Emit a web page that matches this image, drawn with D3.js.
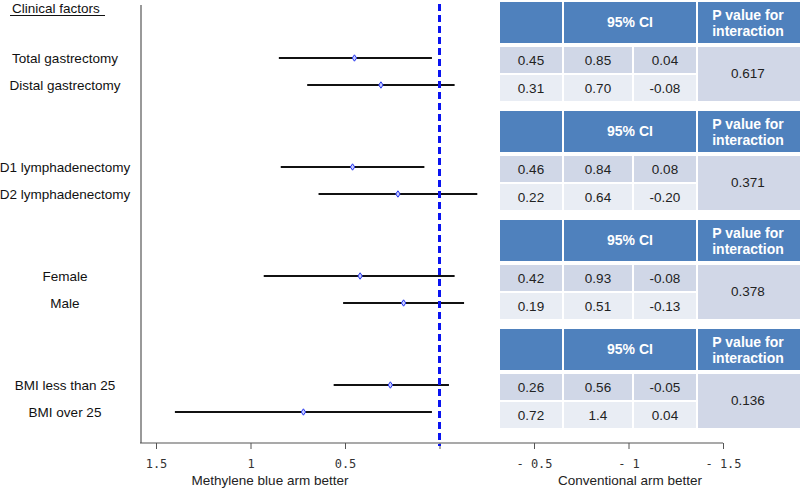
<!DOCTYPE html>
<html>
<head>
<meta charset="utf-8">
<script src="https://cdn.jsdelivr.net/npm/d3@7"></script>
<style>
  body { margin: 0; background: #fff; }
  svg { display: block; font-family: "Liberation Sans", Arial, sans-serif; }
</style>
</head>
<body>
<div id="chart"></div>
<script>
// Data
const factors = ["Total gastrectomy", "Distal gastrectomy", "D1 lymphadenectomy", "D2 lymphadenectomy",
                 "Female", "Male", "BMI less than 25", "BMI over 25"];
const estimates = [0.45, 0.31, 0.46, 0.22, 0.42, 0.19, 0.26, 0.72];
const ciUpper   = [0.85, 0.70, 0.84, 0.64, 0.93, 0.51, 0.56, 1.4];
const ciLower   = [0.04, -0.08, 0.08, -0.20, -0.08, -0.13, -0.05, 0.04];
const ciUpperText = ["0.85", "0.70", "0.84", "0.64", "0.93", "0.51", "0.56", "1.4"];
const ciLowerText = ["0.04", "-0.08", "0.08", "-0.20", "-0.08", "-0.13", "-0.05", "0.04"];
const pValues = ["0.617", "0.371", "0.378", "0.136"];
const tickValues = [1.5, 1, 0.5, 0, -0.5, -1, -1.5];
const tickLabels = ["1.5", "1", "0.5", "", "- 0.5", "- 1", "- 1.5"];

const colors = {
  header: "#4f81bd",
  row1: "#d0d7e7",
  row2: "#e9edf4",
  pCell: "#d1d7e7",
  cellText: "#222222",
  ci: "#111111",
  ref: "#0a14f0",
  axis: "#555555"
};

const W = 800, H = 488;
const svg = d3.select("#chart").append("svg")
    .attr("width", W)
    .attr("height", H);

// Scales
const x = d3.scaleLinear().domain([1.5, -1.5]).range([156, 723]);
const groupStep = 109;
const rowY = i => 58 + Math.floor(i / 2) * groupStep + (i % 2) * 27;

// Left frame line
svg.append("line")
    .attr("x1", 141).attr("x2", 141)
    .attr("y1", 5).attr("y2", 443)
    .attr("stroke", colors.axis).attr("stroke-width", 1.2);

// Bottom axis
const axisG = svg.append("g")
    .attr("transform", "translate(0,443)")
    .call(d3.axisBottom(x).tickValues(tickValues).tickSize(6).tickSizeOuter(0)
      .tickFormat((d, i) => tickLabels[i]));
axisG.select(".domain").remove();
axisG.append("line")
    .attr("x1", 140).attr("x2", x(-1.5))
    .attr("stroke", colors.axis).attr("stroke-width", 1.2);
axisG.selectAll(".tick line").attr("stroke", colors.axis);
axisG.selectAll(".tick text")
    .attr("y", 16)
    .style("font-family", "'DejaVu Sans Mono', monospace")
    .style("font-size", "12px")
    .style("fill", "#333");

// Axis titles
svg.append("text")
    .attr("x", 270).attr("y", 485)
    .attr("text-anchor", "middle")
    .style("font-size", "13.5px").style("fill", "#222")
    .text("Methylene blue arm better");
svg.append("text")
    .attr("x", 630).attr("y", 485)
    .attr("text-anchor", "middle")
    .style("font-size", "13.5px").style("fill", "#222")
    .text("Conventional arm better");

// Header for factors
svg.append("text")
    .attr("x", 12).attr("y", 13)
    .style("font-size", "13.5px").style("fill", "#111")
    .text("Clinical factors");
svg.append("line")
    .attr("x1", 10).attr("x2", 105)
    .attr("y1", 15.5).attr("y2", 15.5)
    .attr("stroke", "#111").attr("stroke-width", 1);

// Factor labels
svg.selectAll(".factor")
    .data(factors)
  .enter().append("text")
    .attr("class", "factor")
    .attr("x", 65)
    .attr("y", (d, i) => rowY(i) + 4.5)
    .attr("text-anchor", "middle")
    .style("font-size", "13.5px").style("fill", "#111")
    .text(d => d);

// CI lines
svg.selectAll(".ci")
    .data(factors)
  .enter().append("line")
    .attr("class", "ci")
    .attr("x1", (d, i) => x(ciUpper[i]))
    .attr("x2", (d, i) => x(ciLower[i]))
    .attr("y1", (d, i) => rowY(i))
    .attr("y2", (d, i) => rowY(i))
    .attr("stroke", colors.ci).attr("stroke-width", 2.2);

// Reference dashed line at 0
svg.append("line")
    .attr("x1", x(0)).attr("x2", x(0))
    .attr("y1", 4).attr("y2", 446)
    .attr("stroke", colors.ref)
    .attr("stroke-width", 3)
    .attr("stroke-dasharray", "7,4");

// Point estimates (small diamonds)
svg.selectAll(".est")
    .data(factors)
  .enter().append("path")
    .attr("class", "est")
    .attr("transform", (d, i) => `translate(${x(estimates[i])},${rowY(i)})`)
    .attr("d", "M0,-3.2L2.2,0L0,3.2L-2.2,0Z")
    .attr("fill", "#c8ccff")
    .attr("stroke", "#2233ee").attr("stroke-width", 1);

// Tables
const cols = [
  { x: 500, w: 62 },
  { x: 564, w: 68 },
  { x: 634, w: 62 },
  { x: 698, w: 102 }
];
const headerH = 41, rowH = 26;

pValues.forEach((p, g) => {
  const top = 2 + g * groupStep;
  const t = svg.append("g").attr("class", "table");

  // header cells
  t.append("rect").attr("x", cols[0].x).attr("y", top).attr("width", cols[0].w).attr("height", headerH)
      .attr("fill", colors.header);
  t.append("rect").attr("x", cols[1].x).attr("y", top).attr("width", cols[2].x + cols[2].w - cols[1].x).attr("height", headerH)
      .attr("fill", colors.header);
  t.append("rect").attr("x", cols[3].x).attr("y", top).attr("width", cols[3].w).attr("height", headerH)
      .attr("fill", colors.header);
  t.append("text")
      .attr("x", (cols[1].x + cols[2].x + cols[2].w) / 2).attr("y", top + 25)
      .attr("text-anchor", "middle")
      .style("font-size", "14px").style("font-weight", "bold").style("fill", "#fff")
      .text("95% CI");
  t.append("text")
      .attr("x", cols[3].x + 50).attr("y", top + 18)
      .attr("text-anchor", "middle")
      .style("font-size", "14px").style("font-weight", "bold").style("fill", "#fff")
      .text("P value for");
  t.append("text")
      .attr("x", cols[3].x + 50).attr("y", top + 34)
      .attr("text-anchor", "middle")
      .style("font-size", "14px").style("font-weight", "bold").style("fill", "#fff")
      .text("interaction");

  // data rows
  [0, 1].forEach(r => {
    const i = g * 2 + r;
    const y0 = top + headerH + 4 + r * (rowH + 2);
    const vals = [estimates[i].toFixed(2), ciUpperText[i], ciLowerText[i]];
    vals.forEach((v, c) => {
      t.append("rect")
          .attr("x", cols[c].x).attr("y", y0)
          .attr("width", cols[c].w).attr("height", rowH)
          .attr("fill", r === 0 ? colors.row1 : colors.row2);
      t.append("text")
          .attr("x", cols[c].x + cols[c].w / 2).attr("y", y0 + rowH / 2 + 4.5)
          .attr("text-anchor", "middle")
          .style("font-size", "13.5px").style("fill", colors.cellText)
          .text(v);
    });
  });

  // merged p value cell
  const py = top + headerH + 4;
  t.append("rect")
      .attr("x", cols[3].x).attr("y", py)
      .attr("width", cols[3].w).attr("height", rowH * 2 + 2)
      .attr("fill", colors.pCell);
  t.append("text")
      .attr("x", cols[3].x + 50).attr("y", py + rowH + 5)
      .attr("text-anchor", "middle")
      .style("font-size", "13.5px").style("fill", colors.cellText)
      .text(p);
});
</script>
</body>
</html>
